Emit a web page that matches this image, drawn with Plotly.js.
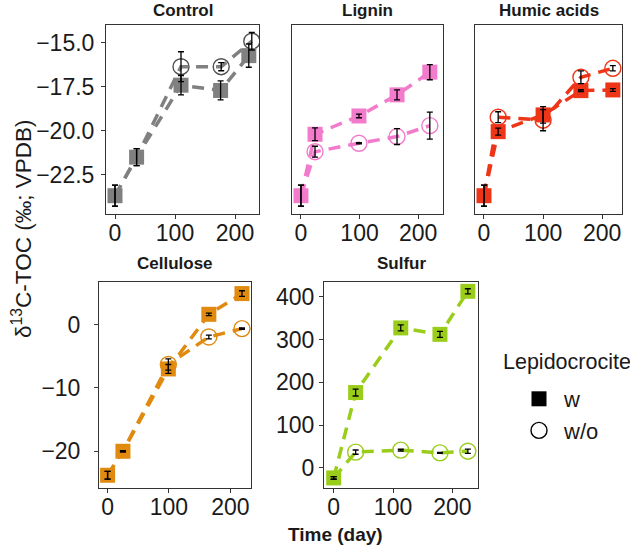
<!DOCTYPE html>
<html><head><meta charset="utf-8">
<script src="https://cdn.plot.ly/plotly-3.0.1.min.js"></script>
<style>html,body{margin:0;padding:0;background:#fff}#plot{width:630px;height:545px}</style>
</head><body><div id="plot"></div>
<script>
// ---- data ----
const panels = ["Control", "Lignin", "Humic acids", "Cellulose", "Sulfur"];
const colors = ["#808080", "#F27BCB", "#EE3517", "#E08A0F", "#9ACD1A"];
const circleColors = ["#505050", "#F27BCB", "#EE3517", "#E08A0F", "#9ACD1A"];

const ctrlDayW  = [0, 36, 110, 176, 223];
const ctrlDayWo = [0, 36, 110, 177, 228];
const ctrlW     = [-23.68, -21.49, -17.4, -17.7, -15.72];
const ctrlWErr  = [0.6, 0.48, 0.55, 0.54, 0.66];
const ctrlWo    = [-23.68, -21.49, -16.35, -16.35, -14.9];
const ctrlWoErr = [0.6, 0.48, 0.85, 0.23, 0.5];

const ligDay   = [0, 24, 99, 164, 220];
const ligW     = [-23.68, -20.19, -19.15, -17.95, -16.66];
const ligWErr  = [0.6, 0.36, 0.1, 0.28, 0.43];
const ligWo    = [-23.68, -21.18, -20.7, -20.32, -19.7];
const ligWoErr = [0.6, 0.31, 0.03, 0.45, 0.77];

const humDay   = [0, 24, 100, 164, 218];
const humW     = [-23.68, -20.04, -19.09, -17.71, -17.67];
const humWErr  = [0.6, 0.2, 0.47, 0.05, 0.08];
const humWo    = [-23.68, -19.22, -19.39, -16.95, -16.44];
const humWoErr = [0.6, 0.31, 0.6, 0.36, 0.15];

const celDay   = [0, 25, 99, 165, 219];
const celW     = [-23.79, -20.0, -7.0, 1.63, 4.9];
const celWErr  = [0.6, 0.1, 0.7, 0.2, 0.45];
const celWo    = [-23.79, -20.0, -6.3, -1.95, -0.63];
const celWoErr = [0.6, 0.1, 0.9, 0.3, 0.1];

const sulDay   = [0, 37, 113, 179, 226];
const sulW     = [-23.5, 176, 327, 312, 412.5];
const sulWErr  = [3, 8, 7, 7, 6];
const sulWo    = [-23.5, 36.8, 41.5, 35, 39];
const sulWoErr = [3, 5, 2, 1, 5];

const xTicks = [0, 100, 200];
const ctrlYTicks = [-22.5, -20.0, -17.5, -15.0];
const celYTicks = [-20, -10, 0];
const sulYTicks = [0, 100, 200, 300, 400];

const legendTitle = "Lepidocrocite";
const legendNames = ["w", "w/o"];

// ---- build ----
const W = 630, H = 545;
const series = [
  {dw: ctrlDayW, dwo: ctrlDayWo, w: ctrlW, we: ctrlWErr, wo: ctrlWo, woe: ctrlWoErr},
  {dw: ligDay, dwo: ligDay, w: ligW, we: ligWErr, wo: ligWo, woe: ligWoErr},
  {dw: humDay, dwo: humDay, w: humW, we: humWErr, wo: humWo, woe: humWoErr},
  {dw: celDay, dwo: celDay, w: celW, we: celWErr, wo: celWo, woe: celWoErr},
  {dw: sulDay, dwo: sulDay, w: sulW, we: sulWErr, wo: sulWo, woe: sulWoErr}
];
// pixel boxes [left, right, top, bottom]
const boxes = [
  [106, 259, 25, 214],
  [292, 443, 25, 214],
  [475, 622, 25, 214],
  [99, 251, 282, 488],
  [324, 478, 282, 488]
];
const xRanges = [[-15, 240], [-15.3, 242.5], [-15.2, 233.5], [-14, 233.7], [-16.3, 243.1]];
const yRanges = [[-24.72, -13.98], [-24.72, -13.98], [-24.72, -13.98], [-25.8, 6.73], [-47, 434.3]];
const yTicks = [ctrlYTicks, null, null, celYTicks, sulYTicks];
const yStandoff = [2, 0, 0, 9, 0];

const traces = [];
const layout = {
  width: W, height: H, margin: {l: 0, r: 0, t: 0, b: 0},
  paper_bgcolor: "#fff", plot_bgcolor: "#fff",
  font: {family: "Liberation Sans, Arial, sans-serif", color: "#1a1a1a"},
  showlegend: true,
  legend: {x: 514/W, y: 1 - 378/H, xanchor: "left", yanchor: "top",
           font: {size: 22, color: "#1a1a1a"}, bgcolor: "rgba(0,0,0,0)", itemwidth: 40},
  annotations: [], shapes: []
};
const dash = "12px,8px";

series.forEach((s, i) => {
  const n = i + 1;
  const xa = "x" + (n === 1 ? "" : n), ya = "y" + (n === 1 ? "" : n);
  const c = colors[i], cc = circleColors[i];
  // circles that coincide with a square are hidden beneath it
  const woOpacity = s.wo.map((v, k) => (v === s.w[k] && s.dwo[k] === s.dw[k]) ? 0 : 1);
  // lines
  traces.push({x: s.dwo, y: s.wo, xaxis: xa, yaxis: ya, mode: "lines", showlegend: false,
    line: {color: c, width: 3.5, dash: dash}, hoverinfo: "skip"});
  traces.push({x: s.dw, y: s.w, xaxis: xa, yaxis: ya, mode: "lines", showlegend: false,
    line: {color: c, width: 3.5, dash: dash}, hoverinfo: "skip"});
  // markers
  traces.push({x: s.dwo, y: s.wo, xaxis: xa, yaxis: ya, mode: "markers", showlegend: false,
    marker: {symbol: "circle-open", size: 16, color: cc, opacity: woOpacity, line: {width: 1.4, color: cc}}});
  traces.push({x: s.dw, y: s.w, xaxis: xa, yaxis: ya, mode: "markers", showlegend: false,
    marker: {symbol: "square", size: 15, color: c, line: {width: 0}}});
  // error bars on top
  traces.push({x: s.dwo, y: s.wo, xaxis: xa, yaxis: ya, mode: "markers", showlegend: false,
    marker: {size: 1, opacity: 0}, error_y: {type: "data", array: s.woe, visible: true, color: "#000", thickness: 1.3, width: 3}});
  traces.push({x: s.dw, y: s.w, xaxis: xa, yaxis: ya, mode: "markers", showlegend: false,
    marker: {size: 1, opacity: 0}, error_y: {type: "data", array: s.we, visible: true, color: "#000", thickness: 1.3, width: 3}});

  const b = boxes[i];
  const axCommon = {showgrid: false, zeroline: false, showline: true, linecolor: "#333", linewidth: 1,
    mirror: true, ticks: "outside", ticklen: 4, tickwidth: 1, tickcolor: "#333",
    tickfont: {size: 23, color: "#1a1a1a"}, fixedrange: true};
  layout["xaxis" + (n === 1 ? "" : n)] = Object.assign({}, axCommon, {
    domain: [b[0] / W, b[1] / W], range: xRanges[i], anchor: ya, ticklabelstandoff: -6,
    tickmode: "array", tickvals: xTicks, ticktext: xTicks.map(String)});
  const yax = Object.assign({}, axCommon, {
    domain: [1 - b[3] / H, 1 - b[2] / H], range: yRanges[i], anchor: xa, ticklabelstandoff: yStandoff[i]});
  if (yTicks[i]) {
    yax.tickmode = "array"; yax.tickvals = yTicks[i];
    yax.ticktext = yTicks[i].map(v => (i === 0 ? v.toFixed(1) : String(v)).replace("-", "\u2212"));
  } else {
    yax.showticklabels = false; yax.ticks = "";
  }
  layout["yaxis" + (n === 1 ? "" : n)] = yax;
  // panel title
  layout.annotations.push({text: "<b>" + panels[i] + "</b>", xref: "paper", yref: "paper",
    x: (b[0] + b[1]) / 2 / W, y: i < 3 ? 1 : 1 - 253 / H, xanchor: "center", yanchor: "top",
    borderpad: 0, showarrow: false, font: {size: 17, color: "#1a1a1a"}});
});

// legend entries
traces.push({x: [null], y: [null], xaxis: "x5", yaxis: "y5", mode: "markers", name: legendNames[0],
  marker: {symbol: "square", size: 15, color: "#000"}});
traces.push({x: [null], y: [null], xaxis: "x5", yaxis: "y5", mode: "markers", name: legendNames[1],
  marker: {symbol: "circle-open", size: 16, color: "#000", line: {width: 1.4, color: "#000"}}});

layout.annotations.push({text: legendTitle, xref: "paper", yref: "paper", x: 501/W, y: 1 - 362/H,
  xanchor: "left", yanchor: "middle", showarrow: false, font: {size: 21.5, color: "#1a1a1a"}});
layout.annotations.push({text: "δ<sup>13</sup>C-TOC (‰; VPDB)", xref: "paper", yref: "paper",
  x: 22/W, y: 1 - 229/H, xanchor: "center", yanchor: "middle", textangle: -90, showarrow: false,
  font: {size: 22.5, color: "#1a1a1a"}});
layout.annotations.push({text: "<b>Time (day)</b>", xref: "paper", yref: "paper",
  x: 335.5/W, y: 1 - 534/H, xanchor: "center", yanchor: "middle", showarrow: false,
  font: {size: 19, color: "#1a1a1a"}});

Plotly.newPlot("plot", traces, layout, {staticPlot: true, displayModeBar: false});
</script></body></html>
